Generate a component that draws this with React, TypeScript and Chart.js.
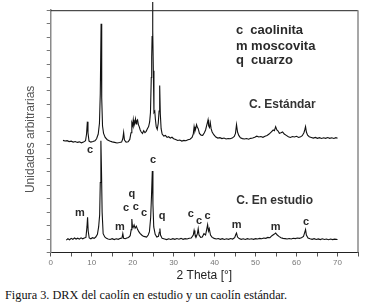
import React, { useEffect, useRef } from 'react';
import { Chart, registerables } from 'chart.js';

Chart.register(...registerables);

// ---- data (2θ in degrees, intensity in arbitrary units) ----
const standardTheta = [
  3.0, 3.5, 4.0, 4.5, 5.0, 5.5, 6.0, 6.5, 7.0, 7.5, 8.0, 8.5, 8.75, 8.95, 9.1, 9.35, 9.8, 10.3, 10.8, 11.2,
  11.6, 11.9, 12.1, 12.3, 12.45, 12.65, 12.9, 13.3, 13.8, 14.4, 15.0, 15.6, 16.2, 16.8, 17.3, 17.6, 17.8, 18.0,
  18.4, 18.9, 19.3, 19.6, 19.8, 20.0, 20.15, 20.3, 20.5, 20.7, 20.85, 21.0, 21.2, 21.4, 21.6, 21.85, 22.1, 22.4,
  22.7, 23.0, 23.3, 23.6, 23.9, 24.15, 24.35, 24.55, 24.65, 24.75, 24.85, 24.95, 25.05, 25.2, 25.4, 25.55, 25.75,
  26.0, 26.25, 26.45, 26.6, 26.75, 26.95, 27.2, 27.6, 28.0, 28.4, 28.8, 29.2, 29.6, 30.0, 30.5, 31.0, 31.5, 32.0,
  32.5, 33.0, 33.5, 34.0, 34.5, 34.8, 35.0, 35.2, 35.4, 35.6, 35.8, 36.0, 36.3, 36.7, 37.1, 37.5, 37.8, 38.0, 38.2,
  38.4, 38.55, 38.75, 38.95, 39.15, 39.4, 39.8, 40.3, 40.8, 41.3, 41.8, 42.3, 42.8, 43.3, 43.8, 44.3, 44.8, 45.1,
  45.35, 45.6, 45.9, 46.3, 46.8, 47.3, 47.8, 48.3, 48.8, 49.3, 49.8, 50.3, 50.8, 51.3, 51.8, 52.3, 52.8, 53.3, 53.8,
  54.3, 54.6, 54.9, 55.2, 55.5, 55.8, 56.2, 56.6, 57.0, 57.5, 58.0, 58.5, 59.0, 59.5, 60.0, 60.5, 61.0, 61.4, 61.8,
  62.0, 62.2, 62.4, 62.7, 63.1, 63.6, 64.1, 64.6, 65.1, 65.6, 66.1, 66.6, 67.1, 67.6, 68.1, 68.6, 69.1, 69.6, 70.0,
];
const standardIntensity = [
  8.33, 8.28, 8.31, 8.24, 8.27, 8.2, 8.24, 8.18, 8.22, 8.15, 8.2, 8.3, 8.8, 9.72, 8.9, 8.28, 8.2, 8.24, 8.3, 8.45,
  8.8, 9.6, 11.8, 16.99, 11.5, 9.4, 8.85, 8.55, 8.38, 8.28, 8.22, 8.18, 8.14, 8.17, 8.2, 8.45, 8.92, 8.35,
  8.2, 8.23, 8.4, 8.9, 9.64, 9.45, 9.86, 9.4, 9.6, 9.93, 9.55, 9.78, 9.86, 9.5, 9.35, 9.1, 8.95, 8.84,
  9.05, 8.9, 9.0, 9.2, 9.35, 9.7, 10.4, 13.0, 14.5, 16.05, 18.6, 16.5, 13.5, 10.4, 10.5, 9.9, 9.35,
  9.15, 9.6, 10.5, 12.4, 10.3, 9.2, 8.8, 8.65, 8.7, 8.55, 8.6, 8.5, 8.56, 8.45, 8.4, 8.32, 8.36, 8.28,
  8.33, 8.3, 8.38, 8.42, 8.55, 8.8, 9.35, 9.0, 9.2, 9.5, 9.3, 9.2, 8.85, 8.72, 8.7, 8.9, 9.1, 9.35, 9.6,
  9.86, 9.4, 9.28, 9.64, 9.2, 8.95, 8.75, 8.58, 8.5, 8.53, 8.46, 8.5, 8.43, 8.47, 8.45, 8.5, 8.62, 8.85,
  9.5, 8.95, 8.7, 8.52, 8.46, 8.43, 8.47, 8.42, 8.48, 8.5, 8.56, 8.64, 8.58, 8.62, 8.56, 8.64, 8.7, 8.8, 8.95,
  9.1, 9.05, 9.35, 9.1, 9.02, 8.85, 8.9, 8.96, 8.8, 8.7, 8.6, 8.55, 8.62, 8.58, 8.63, 8.55, 8.6, 8.68, 8.9,
  9.1, 9.35, 8.95, 8.72, 8.6, 8.55, 8.5, 8.55, 8.48, 8.53, 8.47, 8.52, 8.48, 8.54, 8.48, 8.52, 8.47, 8.53, 8.48,
];

const studyTheta = [
  3.8, 4.2, 4.6, 5.0, 5.4, 5.8, 6.2, 6.6, 7.0, 7.4, 7.8, 8.2, 8.6, 8.85, 9.0, 9.15, 9.4, 9.8, 10.2, 10.6, 11.0,
  11.4, 11.7, 11.95, 12.1, 12.25, 12.4, 12.55, 12.8, 13.2, 13.6, 14.0, 14.5, 15.0, 15.5, 16.0, 16.5, 17.0, 17.4,
  17.6, 17.8, 18.2, 18.6, 19.0, 19.4, 19.65, 19.8, 19.95, 20.1, 20.35, 20.6, 20.9, 21.2, 21.5, 21.8, 22.2, 22.6,
  23.0, 23.4, 23.8, 24.1, 24.4, 24.6, 24.8, 24.95, 25.15, 25.5, 25.9, 26.3, 26.5, 26.65, 26.8, 27.2, 27.8, 28.3,
  28.8, 29.3, 29.8, 30.3, 30.8, 31.3, 31.8, 32.3, 32.8, 33.3, 33.8, 34.3, 34.8, 35.0, 35.2, 35.5, 35.8, 36.0,
  36.2, 36.6, 37.0, 37.4, 37.8, 38.1, 38.3, 38.5, 38.7, 39.0, 39.4, 39.9, 40.4, 40.9, 41.4, 41.9, 42.4, 42.9,
  43.4, 43.9, 44.4, 44.9, 45.2, 45.35, 45.6, 46.0, 46.5, 47.0, 47.5, 48.0, 48.5, 49.0, 49.5, 50.0, 50.5, 51.0,
  51.5, 52.0, 52.5, 53.0, 53.5, 54.0, 54.5, 54.9, 55.3, 55.7, 56.2, 56.7, 57.2, 57.7, 58.2, 58.7, 59.2, 59.7,
  60.2, 60.7, 61.2, 61.7, 62.0, 62.2, 62.4, 62.8, 63.3, 63.8, 64.3, 64.8, 65.3, 65.8, 66.3, 66.8, 67.3, 67.8,
  68.3, 68.8, 69.3, 70.0,
];
const studyIntensity = [
  0.92, 1.02, 0.95, 1.05, 0.98, 1.08, 1.0, 1.06, 0.99, 1.09, 1.02, 1.08, 1.12, 1.9, 2.62, 1.6, 1.08, 1.02, 1.1, 1.05, 1.15,
  1.35, 1.9, 2.8, 5.2, 8.3, 6.0, 3.0, 1.4, 1.15, 1.05, 1.0, 0.97, 1.03, 0.96, 1.02, 0.98, 1.05, 1.08,
  1.4, 1.05, 1.02, 1.08, 1.12, 1.25, 1.7, 2.49, 1.95, 1.85, 2.05, 1.8, 1.95, 1.72, 1.55, 1.42, 1.3, 1.2,
  1.18, 1.15, 1.3, 1.55, 2.6, 4.2, 6.05, 3.6, 1.9, 1.35, 1.15, 1.2, 1.5, 1.78, 1.3, 1.05, 1.0, 0.96,
  1.02, 0.97, 1.03, 0.98, 1.04, 0.99, 1.05, 0.98, 1.03, 1.0, 1.06, 1.08, 1.3, 1.64, 1.35, 1.15, 1.4, 1.76,
  1.3, 1.12, 1.15, 1.4, 1.3, 1.75, 2.07, 1.6, 1.78, 1.3, 1.12, 1.05, 1.0, 1.04, 0.98, 1.03, 0.97, 1.02,
  0.98, 1.04, 1.0, 1.1, 1.35, 1.44, 1.15, 1.03, 0.98, 1.02, 0.97, 1.03, 0.99, 1.02, 0.98, 1.03, 1.0, 1.05,
  1.02, 1.08, 1.05, 1.12, 1.1, 1.25, 1.35, 1.44, 1.3, 1.2, 1.1, 1.05, 1.03, 1.0, 1.04, 1.0, 1.06, 1.03,
  1.08, 1.05, 1.1, 1.2, 1.5, 1.71, 1.3, 1.08, 1.02, 0.98, 1.03, 0.97, 1.01, 0.96, 1.02, 0.97, 1.0, 0.95,
  1.0, 0.96, 0.99, 0.96,
];

// phase labels placed at (2θ, intensity level)
const phaseLabels = ['m', 'c', 'm', 'c', 'q', 'c', 'c', 'c', 'q', 'c', 'c', 'c', 'm', 'm', 'c'];
const phaseLabelTheta = [7.15, 9.6, 16.9, 18.4, 19.8, 20.8, 22.8, 25.0, 27.2, 34.2, 36.2, 38.3, 45.4, 54.9, 62.3];
const phaseLabelLevel = [2.9, 7.6, 1.93, 3.33, 4.35, 3.38, 2.9, 6.86, 2.68, 2.87, 2.37, 2.73, 2.07, 1.93, 2.24];

const legendLines = ['c  caolinita', 'm moscovita', 'q  cuarzo'];
const legendTheta = 45.2;
const legendLevels = [16.48, 15.3, 14.26];

const sampleNames = ['C. Estándar', 'C. En estudio'];
const sampleNameTheta = [48.4, 45.3];
const sampleNameLevel = [11.0, 3.85];

const xTickLabelsUpTo = 70;
const caption = 'Figura 3. DRX del caolín en estudio y un caolín estándar.';

const SANS = '"Liberation Sans", Arial, sans-serif';

export default function App() {
  const canvasRef = useRef<HTMLCanvasElement | null>(null);

  useEffect(() => {
    const canvas = canvasRef.current;
    if (!canvas) return;

    const textPlugin = {
      id: 'drxText',
      afterDatasetsDraw(chart: any) {
        const { ctx, chartArea, scales } = chart;
        const x = scales.x;
        const y = scales.y;
        ctx.save();
        // top and right frame
        ctx.strokeStyle = '#222';
        ctx.lineWidth = 1;
        ctx.beginPath();
        ctx.moveTo(chartArea.left, chartArea.top + 0.5);
        ctx.lineTo(chartArea.right, chartArea.top + 0.5);
        ctx.stroke();
        ctx.strokeStyle = '#8a8a8a';
        ctx.lineWidth = 1.5;
        ctx.beginPath();
        ctx.moveTo(chartArea.right, chartArea.top);
        ctx.lineTo(chartArea.right, chartArea.bottom);
        ctx.stroke();

        ctx.fillStyle = '#2a2a2a';
        ctx.textBaseline = 'middle';
        ctx.textAlign = 'center';
        ctx.font = 'bold 11px ' + SANS;
        phaseLabels.forEach((t, i) => {
          ctx.fillText(t, x.getPixelForValue(phaseLabelTheta[i]), y.getPixelForValue(phaseLabelLevel[i]));
        });

        ctx.textAlign = 'left';
        ctx.font = 'bold 13px ' + SANS;
        legendLines.forEach((t, i) => {
          ctx.fillText(t, x.getPixelForValue(legendTheta), y.getPixelForValue(legendLevels[i]));
        });

        ctx.fillStyle = '#333';
        ctx.font = 'bold 12px ' + SANS;
        sampleNames.forEach((t, i) => {
          ctx.fillText(t, x.getPixelForValue(sampleNameTheta[i]), y.getPixelForValue(sampleNameLevel[i]));
        });

        // y axis title
        ctx.fillStyle = '#555';
        ctx.font = '12px ' + SANS;
        ctx.textAlign = 'center';
        ctx.translate(31, (chartArea.top + chartArea.bottom) / 2 + 8);
        ctx.rotate(-Math.PI / 2);
        ctx.fillText('Unidades arbitrarias', 0, 0);
        ctx.restore();
      },
    };

    const chart = new Chart(canvas, {
      type: 'line',
      data: {
        datasets: [
          {
            label: 'C. Estándar',
            data: standardTheta.map((t, i) => ({ x: t, y: standardIntensity[i] })),
            borderColor: '#111',
            borderWidth: 1.1,
            pointRadius: 0,
            tension: 0,
            fill: false,
            clip: false as any,
          },
          {
            label: 'C. En estudio',
            data: studyTheta.map((t, i) => ({ x: t, y: studyIntensity[i] })),
            borderColor: '#111',
            borderWidth: 1.1,
            pointRadius: 0,
            tension: 0,
            fill: false,
            clip: false as any,
          },
        ],
      },
      options: {
        animation: false,
        responsive: false,
        maintainAspectRatio: false,
        events: [],
        layout: { padding: { top: 5, right: 14, left: 0, bottom: 0 } },
        plugins: { legend: { display: false }, tooltip: { enabled: false } },
        scales: {
          x: {
            type: 'linear',
            min: 0,
            max: 75,
            afterFit: (s: any) => {
              s.height = 32.5;
            },
            ticks: {
              stepSize: 5,
              autoSkip: false,
              maxRotation: 0,
              padding: 1,
              color: '#777',
              font: { size: 8, family: SANS },
              callback: (v: any) => (Number(v) % 10 === 0 && Number(v) <= xTickLabelsUpTo ? String(v) : ''),
            },
            grid: { drawOnChartArea: false, drawTicks: true, tickLength: 4, color: '#555' },
            border: { color: '#222', width: 1 },
            title: {
              display: true,
              text: '2 Theta [°]',
              color: '#222',
              font: { size: 12, family: SANS },
              padding: { top: 0, bottom: 2 },
            },
          },
          y: {
            type: 'linear',
            min: 0,
            max: 18,
            afterFit: (s: any) => {
              s.width = 50.7;
            },
            ticks: { stepSize: 1, autoSkip: false, callback: () => '' },
            grid: { drawOnChartArea: false, drawTicks: true, tickLength: 4, color: '#777' },
            border: { color: '#8a8a8a', width: 1.5 },
          },
        },
      },
      plugins: [textPlugin],
    });

    return () => chart.destroy();
  }, []);

  return (
    <div style={{ position: 'absolute', left: 0, top: 0, width: 372, height: 304, background: '#fff' }}>
      <canvas ref={canvasRef} width={372} height={285} style={{ display: 'block', width: 372, height: 285 }} />
      <div
        style={{
          position: 'absolute',
          left: 5,
          top: 288,
          fontFamily: '"Liberation Serif", "Times New Roman", serif',
          fontSize: '12.3px',
          lineHeight: '14px',
          color: '#111',
          whiteSpace: 'nowrap',
        }}
      >
        {caption}
      </div>
    </div>
  );
}
